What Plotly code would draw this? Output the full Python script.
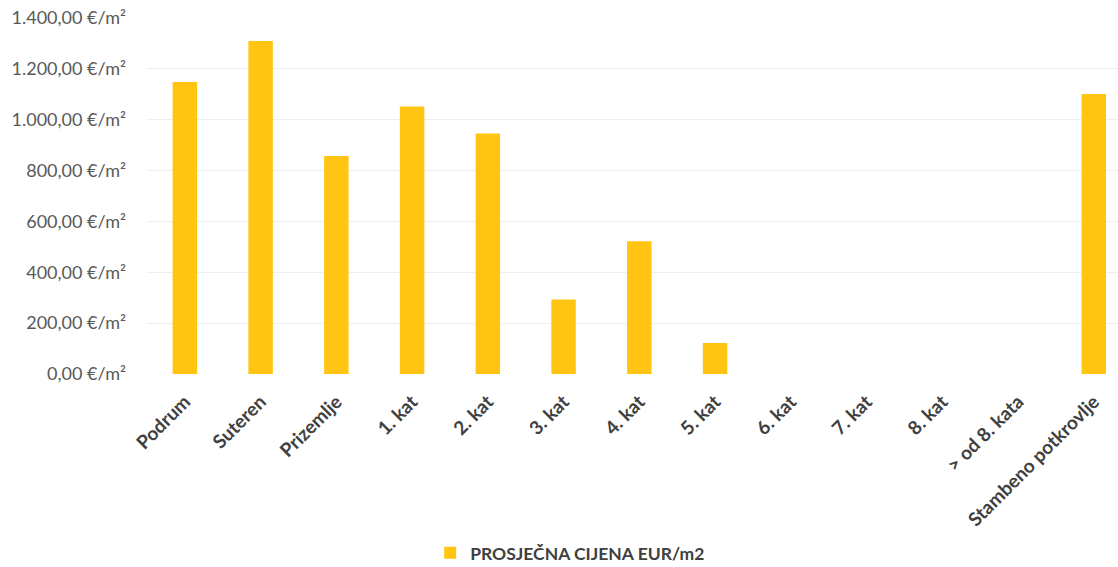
import plotly.graph_objects as go

categories = ["Podrum", "Suteren", "Prizemlje", "1. kat", "2. kat", "3. kat", "4. kat",
              "5. kat", "6. kat", "7. kat", "8. kat", "> od 8. kata", "Stambeno potkrovlje"]
prices = [1148, 1310, 857, 1052, 946, 293, 522, 122, 0, 0, 0, 0, 1101]
series_name = "PROSJEČNA CIJENA EUR/m2"
tick_values = [0, 200, 400, 600, 800, 1000, 1200, 1400]
tick_labels = ["0,00 €/m²", "200,00 €/m²", "400,00 €/m²", "600,00 €/m²", "800,00 €/m²",
               "1.000,00 €/m²", "1.200,00 €/m²", "1.400,00 €/m²"]

font_family = "Lato, 'Open Sans', sans-serif"

fig = go.Figure()
fig.add_trace(go.Bar(
    x=categories, y=prices, name=series_name,
    marker=dict(color="#FFC512", line=dict(width=0)),
    showlegend=True,
))

fig.update_layout(
    width=1118, height=567,
    margin=dict(l=147, r=0, t=18, b=193),
    paper_bgcolor="white", plot_bgcolor="white",
    bargap=0.677,
    font=dict(family=font_family, size=18, color="#595959"),
    xaxis=dict(
        tickangle=-45,
        range=[-0.5, 12.32],
        automargin=False,
        showgrid=False, showline=False, zeroline=False, ticks="",
        ticklabelstandoff=12,
        tickfont=dict(family=font_family, size=19, color="#404040", weight="bold"),
    ),
    yaxis=dict(
        range=[0, 1400],
        automargin=False,
        tickvals=tick_values, ticktext=tick_labels,
        showgrid=True, gridcolor="#EFEFEF", gridwidth=1,
        zeroline=False, showline=False, ticks="",
        ticklabelstandoff=20,
        tickfont=dict(family=font_family, size=18, color="#595959"),
    ),
    legend=dict(
        orientation="h", xref="container", x=0.51, xanchor="center",
        yref="container", y=0.025, yanchor="middle",
        font=dict(family=font_family, size=17.5, color="#404040", weight="bold"),
        itemwidth=30,
    ),
)

fig.write_html("out.html", config={"displayModeBar": False},
               post_script="document.body.style.margin='0';")
